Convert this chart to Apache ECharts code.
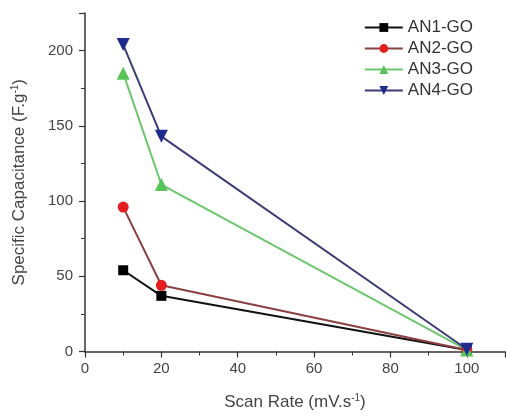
<!DOCTYPE html>
<html><head><meta charset="utf-8">
<script src="https://cdn.jsdelivr.net/npm/echarts@6/dist/echarts.min.js"></script>
<style>html,body{margin:0;padding:0;background:#fff}#c{width:506px;height:416px}</style>
</head><body><div id="c"></div>
<script>
const scanRates = [10, 20, 100];
const an1 = [54, 37, 1];
const an2 = [96, 44, 1];
const an3 = [185, 111, 1];
const an4 = [204, 143, 1.5];
const seriesNames = ['AN1-GO', 'AN2-GO', 'AN3-GO', 'AN4-GO'];
const xTicks = [0, 20, 40, 60, 80, 100];
const yTicks = [0, 50, 100, 150, 200];

const font = 'Liberation Sans, Arial, sans-serif';
const chart = echarts.init(document.getElementById('c'), null, {renderer: 'canvas'});
function mk(name, vals, sym, lineColor, markColor, rot) {
  return {
    name: name, type: 'line',
    data: scanRates.map((x, i) => [x, vals[i]]),
    symbol: sym, symbolSize: sym === 'circle' ? 11 : (sym === 'rect' ? 10 : 13),
    symbolRotate: rot || 0,
    lineStyle: {color: lineColor, width: 2},
    itemStyle: {color: markColor, borderWidth: 0},
    emphasis: {disabled: true}
  };
}
const axisCommon = {
  axisLine: {show: true, onZero: false, lineStyle: {color: '#333', width: 1.5}},
  axisTick: {show: true, inside: false, length: 6, lineStyle: {color: '#333', width: 1.2}},
  minorTick: {show: true, splitNumber: 2, length: 4, lineStyle: {color: '#333', width: 1}},
  splitLine: {show: false},
  axisLabel: {color: '#444', fontFamily: font, fontSize: 15, showMaxLabel: false}
};
chart.setOption({
  animation: false,
  backgroundColor: '#fff',
  grid: {left: 85, right: 1, top: 13, bottom: 57, containLabel: false},
  legend: {
    show: true, orient: 'vertical', right: 28, top: 14, itemGap: 4,
    itemWidth: 38, itemHeight: 11,
    textStyle: {fontFamily: font, fontSize: 17, color: '#333'},
    data: seriesNames
  },
  xAxis: Object.assign({}, axisCommon, {
    type: 'value', min: 0, max: 110, interval: 20,
    axisLabel: Object.assign({}, axisCommon.axisLabel, {margin: 10, formatter: v => xTicks.includes(v) ? String(v) : ''}),
    name: '{a|Scan Rate (mV.s}{s|-1}{a|)}', nameLocation: 'middle', nameGap: 42,
    nameTextStyle: {rich: {a: {fontFamily: font, fontSize: 17, color: '#444'}, s: {fontFamily: font, fontSize: 10, color: '#444', verticalAlign: 'top', padding: [0,0,8,0]}}}
  }),
  yAxis: Object.assign({}, axisCommon, {
    type: 'value', min: 0, max: 225, interval: 50,
    axisLabel: Object.assign({}, axisCommon.axisLabel, {margin: 12, formatter: v => yTicks.includes(v) ? String(v) : ''}),
    name: '{a|Specific Capacitance (F.g}{s|-1}{a|)}', nameLocation: 'middle', nameGap: 57, nameRotate: 90,
    nameTextStyle: {rich: {a: {fontFamily: font, fontSize: 17, color: '#444'}, s: {fontFamily: font, fontSize: 10, color: '#444', verticalAlign: 'top', padding: [0,0,8,0]}}}
  }),
  series: [
    mk('AN1-GO', an1, 'rect', '#111111', '#000000'),
    mk('AN2-GO', an2, 'circle', '#8a4040', '#e41e1e'),
    mk('AN3-GO', an3, 'triangle', '#6cc76c', '#58c458'),
    mk('AN4-GO', an4, 'triangle', '#3c3c78', '#1f2a8f', 180)
  ]
});
</script></body></html>
